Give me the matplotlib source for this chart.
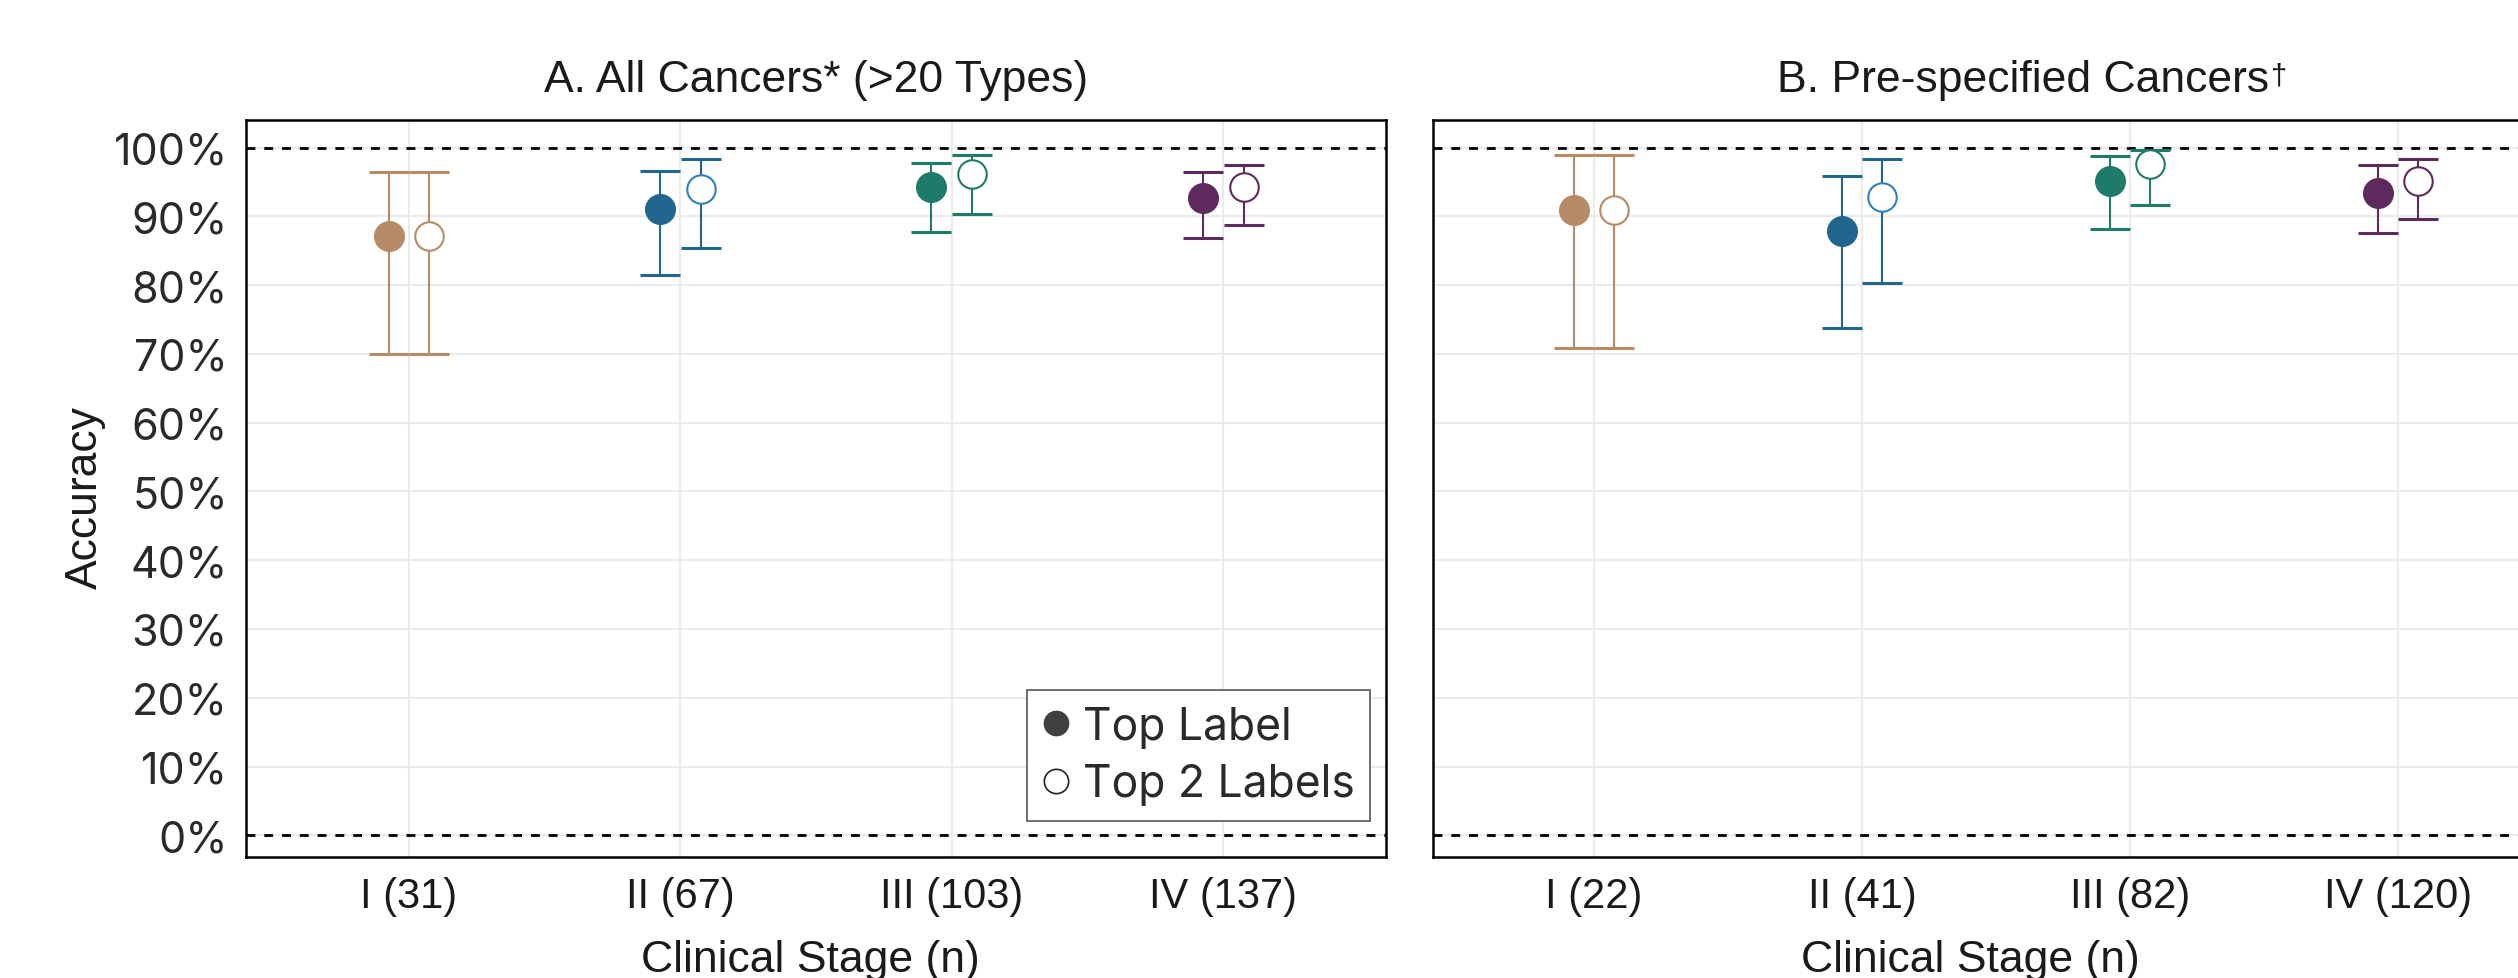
import matplotlib
matplotlib.use("Agg")
import matplotlib.pyplot as plt
from matplotlib.lines import Line2D
import numpy as np

# ---------------- data ----------------
stages_a = ["I (31)", "II (67)", "III (103)", "IV (137)"]
stages_b = ["I (22)", "II (41)", "III (82)", "IV (120)"]

a_top = [87.1, 91.0, 94.2, 92.7]
a_top_lo = [70.0, 81.5, 87.7, 86.9]
a_top_hi = [96.4, 96.6, 97.8, 96.4]
a_top2 = [87.1, 94.0, 96.1, 94.2]
a_top2_lo = [70.0, 85.4, 90.3, 88.8]
a_top2_hi = [96.4, 98.3, 98.9, 97.4]

b_top = [90.9, 87.9, 95.1, 93.4]
b_top_lo = [70.9, 73.8, 88.2, 87.5]
b_top_hi = [98.9, 95.9, 98.7, 97.4]
b_top2 = [90.9, 92.8, 97.6, 95.1]
b_top2_lo = [70.9, 80.3, 91.7, 89.6]
b_top2_hi = [98.9, 98.4, 99.7, 98.3]

yticks = list(range(0, 101, 10))
ytick_labels = [f"{v}%" for v in yticks]

colors = ["#B68B65", "#21668E", "#1E7B6A", "#5E2A5E"]
open_edge = ["#B68B65", "#2F7FBF", "#1E7B6A", "#5E2A5E"]

# ---------------- figure ----------------
W, H = 2518, 979
fig = plt.figure(figsize=(W / 100, H / 100), dpi=100)

def px_axes(x0, x1, ytop, ybot):
    return fig.add_axes([x0 / W, (H - ybot) / H, (x1 - x0) / W, (ybot - ytop) / H])

axA = px_axes(246, 1386, 121, 858)
axB = px_axes(1433, 2559, 121, 858)

SANS = "Liberation Sans"
GEO = "Inter"
dodge = 0.075

def draw_panel(ax, labels, top, tlo, thi, top2, t2lo, t2hi):
    x = np.arange(1, len(labels) + 1)
    ax.set_xlim(0.4, 4.6)
    ax.set_ylim(-3.15, 104.0)
    ax.set_yticks(yticks)
    ax.set_xticks(x)
    ax.set_xticklabels(labels, fontsize=30, family=SANS, color="#1a1a1a")
    ax.grid(True, color="#EBEBEB", lw=1.5, zorder=0)
    ax.set_axisbelow(True)
    ax.tick_params(length=0, pad=14)
    for s in ax.spines.values():
        s.set_linewidth(1.8)
        s.set_color("black")
    for yv in (0, 100):
        ax.axhline(yv, color="black", lw=2.0, ls=(0, (3.2, 3.2)), zorder=2)
    for i in range(len(labels)):
        c = colors[i]
        # top label (filled)
        xi = x[i] - dodge
        ax.errorbar([xi], [top[i]], yerr=[[top[i] - tlo[i]], [thi[i] - top[i]]],
                    fmt="none", ecolor=c, elinewidth=1.5, capsize=14.4, capthick=2.2, zorder=3)
        ax.plot([xi], [top[i]], marker="o", ls="none", markersize=21.5,
                markerfacecolor=c, markeredgecolor=c, markeredgewidth=0.8, zorder=4)
        # top 2 labels (open)
        xj = x[i] + dodge
        ax.errorbar([xj], [top2[i]], yerr=[[top2[i] - t2lo[i]], [t2hi[i] - top2[i]]],
                    fmt="none", ecolor=c, elinewidth=1.5, capsize=14.4, capthick=2.2, zorder=3)
        ax.plot([xj], [top2[i]], marker="o", ls="none", markersize=20.5,
                markerfacecolor="white", markeredgecolor=open_edge[i], markeredgewidth=1.5, zorder=4)

draw_panel(axA, stages_a, a_top, a_top_lo, a_top_hi, a_top2, a_top2_lo, a_top2_hi)
draw_panel(axB, stages_b, b_top, b_top_lo, b_top_hi, b_top2, b_top2_lo, b_top2_hi)

axA.set_yticklabels(ytick_labels, fontsize=31, family=GEO, color="#2a2a2a")
axA.tick_params(axis="y", pad=13)
axB.set_yticklabels([])

# axis labels & titles placed in pixel coordinates
def ftext(xp, yp, s, **kw):
    return fig.text(xp / W, (H - yp) / H, s, **kw)

ftext(816, 92, "A. All Cancers* (>20 Types)", ha="center", va="baseline",
      fontsize=32, family=SANS, color="#1a1a1a")
tB = ftext(2023, 92, "B. Pre-specified Cancers", ha="center", va="baseline",
           fontsize=32, family=SANS, color="#1a1a1a")
fig.canvas.draw()
bb = tB.get_window_extent()
fig.text((bb.x1 + 1) / W, (bb.y1 - 2) / H, "\u2020", ha="left", va="top",
         fontsize=21, family=SANS, color="#1a1a1a")

ftext(810, 972, "Clinical Stage (n)", ha="center", va="baseline",
      fontsize=32, family=SANS, color="#1a1a1a")
ftext(1970, 972, "Clinical Stage (n)", ha="center", va="baseline",
      fontsize=32, family=SANS, color="#1a1a1a")
ftext(85, 498, "Accuracy", ha="center", va="center", rotation=90,
      fontsize=32, family=SANS, color="#1a1a1a")

# legend
handles = [
    Line2D([], [], marker="o", ls="none", markersize=17.5,
           markerfacecolor="#404040", markeredgecolor="#404040"),
    Line2D([], [], marker="o", ls="none", markersize=17.5,
           markerfacecolor="white", markeredgecolor="#222222", markeredgewidth=1.2),
]
leg = axA.legend(handles, ["Top Label", "Top 2 Labels"], loc="lower right",
                 bbox_to_anchor=(0.986, 0.049), borderaxespad=0,
                 prop={"family": GEO, "size": 32}, frameon=True, fancybox=False,
                 edgecolor="#555555", framealpha=1, handlelength=0.6,
                 handletextpad=0.3, labelspacing=0.35, borderpad=0.35)
leg.get_frame().set_linewidth(1.2)
for t in leg.get_texts():
    t.set_color("#2a2a2a")

fig.savefig("out.png", dpi=100)
